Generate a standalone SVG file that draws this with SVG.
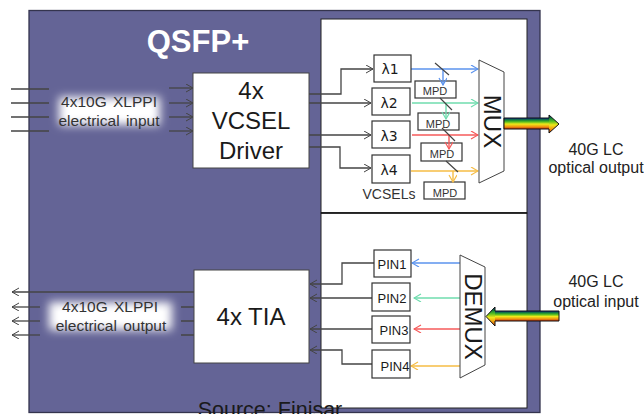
<svg xmlns="http://www.w3.org/2000/svg" width="644" height="414" viewBox="0 0 644 414">
<style>
text{font-family:"Liberation Sans",Arial,sans-serif;fill:#1a1a1a}
.box{fill:#fff;stroke:#333;stroke-width:1.2}
.big{fill:#fff;stroke:#444;stroke-width:1}
.c{fill:none;stroke:#444;stroke-width:1.3}
.a{marker-end:url(#ah)}
.s{font-size:14px;text-anchor:middle}
.m{font-size:11px;text-anchor:middle;fill:#333}
.p{font-size:13px;text-anchor:middle}
.l{font-size:15.500px;text-anchor:middle;fill:#333}
.x{font-size:16px;text-anchor:middle;fill:#222}
.b{font-size:24px;text-anchor:middle}
.mir{stroke:#444;stroke-width:1.2}
.col{fill:none;stroke-width:1.4}
.out{fill:none;stroke:#111;stroke-width:1}
</style>
<defs>
<marker id="ah" markerWidth="9" markerHeight="10" refX="8" refY="4" orient="auto" markerUnits="userSpaceOnUse"><path d="M1 0L8 4L1 8" fill="none" stroke="#444" stroke-width="1"/></marker>
<marker id="blue" markerWidth="9" markerHeight="10" refX="8" refY="4" orient="auto" markerUnits="userSpaceOnUse"><path d="M1 0L8 4L1 8" fill="none" stroke="#5b93ee" stroke-width="1.2"/></marker>
<marker id="green" markerWidth="9" markerHeight="10" refX="8" refY="4" orient="auto" markerUnits="userSpaceOnUse"><path d="M1 0L8 4L1 8" fill="none" stroke="#6fdcae" stroke-width="1.2"/></marker>
<marker id="red" markerWidth="9" markerHeight="10" refX="8" refY="4" orient="auto" markerUnits="userSpaceOnUse"><path d="M1 0L8 4L1 8" fill="none" stroke="#f65a5a" stroke-width="1.2"/></marker>
<marker id="yel" markerWidth="9" markerHeight="10" refX="8" refY="4" orient="auto" markerUnits="userSpaceOnUse"><path d="M1 0L8 4L1 8" fill="none" stroke="#f6bd45" stroke-width="1.2"/></marker>
<linearGradient id="rb" x1="0" y1="0" x2="0" y2="1"><stop offset="0" stop-color="#0a2a90"/><stop offset=".18" stop-color="#12803a"/><stop offset=".36" stop-color="#5cc020"/><stop offset=".55" stop-color="#f0e81a"/><stop offset=".78" stop-color="#f09a10"/><stop offset="1" stop-color="#c8300c"/></linearGradient>
<filter id="glow" x="-20%" y="-50%" width="140%" height="200%"><feGaussianBlur stdDeviation="5"/></filter>
</defs>

<rect id="module" x="29" y="10.500" width="511" height="402" fill="#646496" stroke="#34344e" stroke-width="1.3"/>
<rect id="panel-tx" x="321" y="19" width="206" height="194" fill="#fff" stroke="#222" stroke-width="1"/>
<rect id="panel-rx" x="321" y="213" width="206" height="195" fill="#fff" stroke="#222" stroke-width="1"/>
<line x1="321" y1="213" x2="527" y2="213" stroke="#111" stroke-width="1.6"/>
<text id="title" x="198" y="52" font-size="31" font-weight="700" text-anchor="middle" style="fill:#fff">QSFP+</text>

<g id="glow-input"><rect x="59" y="97" width="101" height="28" fill="#fff" filter="url(#glow)"/><text class="l" x="109" y="107" word-spacing="2">4x10G XLPPI</text><text class="l" x="109" y="126" word-spacing="2">electrical input</text></g>
<g id="glow-output"><rect x="49" y="302" width="123" height="28" fill="#fff" filter="url(#glow)"/><text class="l" x="110" y="312" word-spacing="2">4x10G XLPPI</text><text class="l" x="111" y="331" word-spacing="2">electrical output</text></g>

<g id="mpd1"><rect class="box" x="415" y="81" width="41" height="17"/><text class="m" x="435" y="95">MPD</text></g>
<g id="mpd2"><rect class="box" x="418" y="113" width="41" height="17"/><text class="m" x="438" y="128">MPD</text></g>
<g id="mpd3"><rect class="box" x="421" y="143" width="41" height="18"/><text class="m" x="442" y="158">MPD</text></g>
<g id="mpd4"><rect class="box" x="424" y="182" width="41" height="17"/><text class="m" x="445" y="197">MPD</text></g>

<g id="connectors">
<path class="c" d="M11 89H49M11 103H49M11 117H49M11 131H49"/>
<path class="c a" d="M169 88H193"/><path class="c a" d="M169 103H193"/><path class="c a" d="M169 117H193"/><path class="c a" d="M169 131H193"/>
<path class="c a" d="M309 94H341V69H373"/>
<path class="c a" d="M309 103H371"/>
<path class="c a" d="M309 135H371"/>
<path class="c a" d="M309 147H340V168H371"/>
<path class="c a" d="M194 292H12"/>
<path class="c a" d="M40 307H12"/><path class="c a" d="M40 321H12"/><path class="c a" d="M40 335H12"/>
<path class="c" d="M181 307H194M181 321H194M181 335H194"/>
<path class="c a" d="M374 263H342V284H310"/>
<path class="c a" d="M372 298H310"/>
<path class="c a" d="M372 329H310"/>
<path class="c a" d="M372 364H342V350H310"/>
<path class="col" stroke="#5b93ee" marker-end="url(#blue)" d="M411 69H478"/>
<path class="col" stroke="#6fdcae" marker-end="url(#green)" d="M412 103H478"/>
<path class="col" stroke="#f65a5a" marker-end="url(#red)" d="M412 135H478"/>
<path class="col" stroke="#f6bd45" marker-end="url(#yel)" d="M411 171H478"/>
<path class="col" stroke="#5b93ee" marker-end="url(#blue)" d="M443 69V85"/>
<path class="col" stroke="#6fdcae" marker-end="url(#green)" d="M446 103V119"/>
<path class="col" stroke="#f65a5a" marker-end="url(#red)" d="M449 135V149"/>
<path class="col" stroke="#f6bd45" marker-end="url(#yel)" d="M453 171V182"/>
<path class="col" stroke="#5b93ee" marker-end="url(#blue)" d="M460 263H412"/>
<path class="col" stroke="#6fdcae" marker-end="url(#green)" d="M460 298H414"/>
<path class="col" stroke="#f65a5a" marker-end="url(#red)" d="M460 329H414"/>
<path class="col" stroke="#f6bd45" marker-end="url(#yel)" d="M460 366H411"/>
<path class="mir" d="M435 63L449 75M440 98L452 110M442 128L455 141M446 161L458 172"/>
</g>

<g id="driver"><rect class="big" x="193" y="73" width="116" height="95"/><text class="b" x="251" y="99">4x</text><text class="b" x="251" y="129">VCSEL</text><text class="b" x="251" y="159">Driver</text></g>
<g id="tia"><rect class="big" x="194" y="270" width="115" height="93"/><text class="b" x="251" y="325">4x TIA</text></g>

<g id="l1"><rect class="box" x="374" y="55" width="37" height="27"/><text class="s" x="390" y="74" style="font-family:'DejaVu Sans',sans-serif" font-size="13">λ1</text></g>
<g id="l2"><rect class="box" x="372" y="88" width="38" height="27"/><text class="s" x="389" y="108" style="font-family:'DejaVu Sans',sans-serif" font-size="13">λ2</text></g>
<g id="l3"><rect class="box" x="372" y="121" width="38" height="27"/><text class="s" x="389" y="141" style="font-family:'DejaVu Sans',sans-serif" font-size="13">λ3</text></g>
<g id="l4"><rect class="box" x="372" y="155" width="38" height="28"/><text class="s" x="389" y="175" style="font-family:'DejaVu Sans',sans-serif" font-size="13">λ4</text></g>
<text id="vcsels" x="389" y="199" font-size="14" text-anchor="middle" style="fill:#333">VCSELs</text>

<g id="mux"><polygon points="479,60 504,72 504,171 479,183" fill="#fff" stroke="#444" stroke-width="1"/><text x="490" y="121.500" font-size="24" text-anchor="middle" transform="rotate(90 490 121.500)" dominant-baseline="middle">MUX</text></g>
<g id="demux"><polygon points="460,255 485,267 485,365 460,378" fill="#fff" stroke="#444" stroke-width="1"/><text x="471.500" y="316.500" font-size="24" text-anchor="middle" transform="rotate(90 471.500 316.500)" dominant-baseline="middle">DEMUX</text></g>

<g id="pin1"><rect class="box" x="374" y="250" width="37" height="27"/><text class="p" x="392" y="269">PIN1</text></g>
<g id="pin2"><rect class="box" x="372" y="283" width="38" height="28"/><text class="p" x="392" y="303">PIN2</text></g>
<g id="pin3"><rect class="box" x="372" y="316" width="38" height="27"/><text class="p" x="394" y="335">PIN3</text></g>
<g id="pin4"><rect class="box" x="372" y="350" width="38" height="28"/><text class="p" x="395" y="371">PIN4</text></g>

<g id="out-arrow"><rect x="504" y="118" width="46" height="11" fill="url(#rb)"/><polygon points="549,115 559,124 549,133" fill="url(#rb)"/><polygon class="out" points="504,118 549,118 549,115 559,124 549,133 549,129 504,129"/></g>
<g id="in-arrow"><rect x="495" y="311" width="64" height="10" fill="url(#rb)"/><polygon points="495,307 486,316.500 495,326" fill="url(#rb)"/><polygon class="out" points="559,311 495,311 495,307 486,316.500 495,326 495,321 559,321"/></g>

<text class="x" x="596" y="155">40G LC</text><text class="x" x="596" y="173">optical output</text>
<text class="x" x="596" y="287">40G LC</text><text class="x" x="596" y="307">optical input</text>
<text id="source" x="270" y="417" font-size="21.500" text-anchor="middle">Source: Finisar</text>
</svg>
